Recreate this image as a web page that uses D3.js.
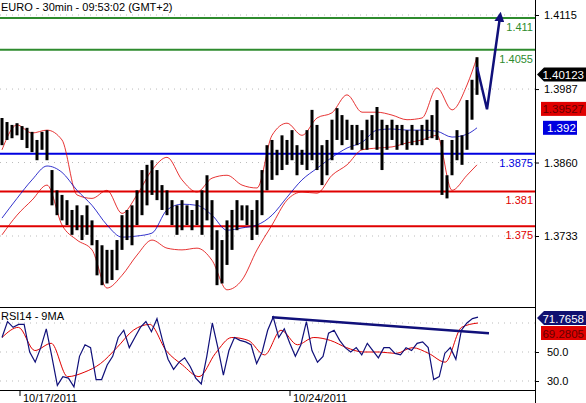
<!DOCTYPE html>
<html>
<head>
<meta charset="utf-8">
<script src="https://cdn.jsdelivr.net/npm/d3@7"></script>
<style>
  body { margin: 0; background: #fff; }
  svg { display: block; font-family: "Liberation Sans", Arial, sans-serif; }
</style>
</head>
<body>
<svg id="chart" width="586" height="403"></svg>
<script>
// 30 min bars, high / low
const barHigh = [1.3937,1.3930,1.3925,1.3928,1.3923,1.3920,1.3913,1.3899,1.3913,1.3916,
  1.3847,1.3812,1.3804,1.3795,1.3778,1.3786,1.3769,1.3786,1.3760,1.3726,
  1.3717,1.3709,1.3709,1.3726,1.3769,1.3778,1.3786,1.3812,1.3847,1.3856,
  1.3864,1.3847,1.3821,1.3812,1.3795,1.3786,1.3795,1.3786,1.3778,1.3795,
  1.3812,1.3838,1.3795,1.3743,1.3726,1.3760,1.3778,1.3795,1.3786,1.3786,
  1.3778,1.3795,1.3847,1.3890,1.3899,1.3882,1.3907,1.3899,1.3916,1.3890,
  1.3882,1.3916,1.3951,1.3925,1.3890,1.3899,1.3934,1.3954,1.3942,1.3934,
  1.3925,1.3925,1.3916,1.3934,1.3942,1.3956,1.3934,1.3925,1.3934,1.3925,
  1.3925,1.3916,1.3925,1.3916,1.3925,1.3934,1.3942,1.3968,1.3899,1.3838,
  1.3899,1.3916,1.3907,1.3968,1.4003,1.4042];
const barLow = [1.3890,1.3899,1.3902,1.3907,1.3899,1.3885,1.3878,1.3864,1.3882,1.3864,
  1.3786,1.3769,1.3760,1.3752,1.3735,1.3743,1.3726,1.3735,1.3717,1.3665,
  1.3648,1.3651,1.3657,1.3674,1.3709,1.3726,1.3717,1.3752,1.3769,1.3786,
  1.3804,1.3795,1.3778,1.3769,1.3752,1.3735,1.3743,1.3752,1.3743,1.3752,
  1.3735,1.3760,1.3709,1.3648,1.3651,1.3683,1.3709,1.3743,1.3760,1.3752,
  1.3726,1.3735,1.3769,1.3812,1.3830,1.3838,1.3847,1.3856,1.3864,1.3838,
  1.3856,1.3847,1.3864,1.3847,1.3821,1.3838,1.3864,1.3899,1.3890,1.3899,
  1.3882,1.3890,1.3882,1.3882,1.3899,1.3882,1.3847,1.3882,1.3899,1.3882,
  1.3890,1.3882,1.3890,1.3890,1.3890,1.3899,1.3902,1.3899,1.3804,1.3798,
  1.3838,1.3864,1.3856,1.3882,1.3934,1.3977];

// Bollinger bands, one point every 3 bars
const bandIndex = d3.range(0, 96, 3).concat([95]);
const bandUpper = [1.3882,1.3925,1.3911,1.3916,1.3899,1.3804,1.3798,1.3812,1.3772,1.3804,
  1.3847,1.3869,1.3830,1.3809,1.3833,1.3838,1.3821,1.3816,1.3907,1.3928,
  1.3907,1.3937,1.3946,1.3977,1.3947,1.3947,1.3942,1.3934,1.3937,1.3989,
  1.3951,1.3994,1.4042];
const bandLower = [1.3735,1.3769,1.3795,1.3821,1.3752,1.3726,1.3709,1.3643,1.3665,1.3700,
  1.3726,1.3712,1.3709,1.3712,1.3691,1.3640,1.3657,1.3709,1.3752,1.3795,
  1.3809,1.3807,1.3838,1.3856,1.3882,1.3885,1.3887,1.3894,1.3899,1.3907,
  1.3812,1.3838,1.3856];
const bandMid = [1.3764,1.3798,1.3830,1.3854,1.3843,1.3812,1.3786,1.3752,1.3731,1.3733,
  1.3738,1.3778,1.3788,1.3786,1.3769,1.3743,1.3747,1.3752,1.3769,1.3800,
  1.3830,1.3850,1.3869,1.3885,1.3895,1.3916,1.3918,1.3916,1.3916,1.3914,
  1.3904,1.3909,1.3920];

// projected path (blue arrow)
const projIndex = [95, 97, 99.6];
const projPrice = [1.4025, 1.3952, 1.4112];

// horizontal levels
const levels = [
  { value: 1.411, label: "1.411", color: "#2e8b2e" },
  { value: 1.4055, label: "1.4055", color: "#2e8b2e" },
  { value: 1.3875, label: "1.3875", color: "#0000e0" },
  { value: 1.381, label: "1.381", color: "#e00000" },
  { value: 1.375, label: "1.375", color: "#e00000" }
];
const priceTicks = [1.4115, 1.3987, 1.3860, 1.3733];

// RSI14 and its 9 MA
const rsi = [60,71,67,69,69,50,43,53,66,47,27,33,32,26,47,55,53,31,31,41,
  47,60,65,53,60,67,71,64,73,58,45,38,43,46,40,32,28,47,70,53,
  34,51,60,58,57,55,42,50,65,74,60,66,56,47,55,71,51,43,47,63,
  65,58,53,50,53,48,56,51,46,53,53,49,48,53,51,56,57,53,31,33,
  49,53,45,65,70,73,74];
const rsiMa = [60,67,51,56,33,36,42,53,65,69,51,41,33,49,60,58,48,65,55,60,
  58,53,50,50,49,53,49,43,67,70];
const rsiTicks = [50, 30];
const rsiTrend = { x: [54, 97.4], v: [74, 63] };

const dates = [{ i: 3.6, label: "10/17/2011" }, { i: 57.6, label: "10/24/2011" }];

const svg = d3.select("#chart");
const plotRight = 535;

const x = d3.scaleLinear().domain([0, 95]).range([2, 477]);
const y = d3.scaleLinear().domain([1.3733, 1.4115]).range([236, 15]);
const yr = d3.scaleLinear().domain([30, 50]).range([381, 352]);
const xRsi = d3.scaleLinear().domain([0, rsi.length - 1]).range([2, 478]);
const xRsiMa = d3.scaleLinear().domain([0, rsiMa.length - 1]).range([2, 478]);

// dotted grids
svg.append("g").selectAll("line").data(priceTicks).join("line")
  .attr("x1", 0).attr("x2", plotRight).attr("y1", d => y(d)).attr("y2", d => y(d))
  .attr("stroke", "#bbb").attr("stroke-dasharray", "1,5");
svg.append("g").selectAll("line").data([70, 50, 30]).join("line")
  .attr("x1", 0).attr("x2", plotRight).attr("y1", d => yr(d)).attr("y2", d => yr(d))
  .attr("stroke", "#bbb").attr("stroke-dasharray", "1,5");

// levels
const lv = svg.append("g");
lv.selectAll("line").data(levels).join("line")
  .attr("x1", 0).attr("x2", plotRight).attr("y1", d => y(d.value)).attr("y2", d => y(d.value))
  .attr("stroke", d => d.color).attr("stroke-width", 2);
lv.selectAll("text").data(levels).join("text")
  .attr("x", plotRight - 2).attr("y", d => y(d.value) + 13).attr("text-anchor", "end")
  .attr("font-size", 11).attr("fill", d => d.color).text(d => d.label);

// bands
const bandLine = arr => d3.line().x((d, k) => x(bandIndex[k])).y(d => y(d)).curve(d3.curveMonotoneX)(arr);
svg.append("path").attr("d", bandLine(bandUpper)).attr("fill", "none").attr("stroke", "#e00000").attr("stroke-width", 0.8);
svg.append("path").attr("d", bandLine(bandLower)).attr("fill", "none").attr("stroke", "#e00000").attr("stroke-width", 0.8);
svg.append("path").attr("d", bandLine(bandMid)).attr("fill", "none").attr("stroke", "#0000c0").attr("stroke-width", 0.8);

// bars
svg.append("g").selectAll("line").data(barHigh).join("line")
  .attr("x1", (d, i) => x(i)).attr("x2", (d, i) => x(i))
  .attr("y1", d => y(d)).attr("y2", (d, i) => y(barLow[i]))
  .attr("stroke", "#000").attr("stroke-width", 3);

// projection arrow
svg.append("defs").append("marker").attr("id", "arr")
  .attr("viewBox", "0 0 10 10").attr("refX", 5).attr("refY", 5)
  .attr("markerWidth", 4).attr("markerHeight", 4).attr("orient", "auto")
  .append("path").attr("d", "M0,0L10,5L0,10z").attr("fill", "#10107a");
svg.append("path")
  .attr("d", d3.line().x(d => x(d)).y((d, k) => y(projPrice[k]))(projIndex))
  .attr("fill", "none").attr("stroke", "#10107a").attr("stroke-width", 2.5)
  .attr("marker-end", "url(#arr)");

// frame
svg.append("line").attr("x1", plotRight + 0.5).attr("x2", plotRight + 0.5).attr("y1", 0).attr("y2", 403).attr("stroke", "#000");
svg.append("line").attr("x1", 0).attr("x2", plotRight).attr("y1", 307.5).attr("y2", 307.5).attr("stroke", "#000");
svg.append("line").attr("x1", 0).attr("x2", plotRight).attr("y1", 390.5).attr("y2", 390.5).attr("stroke", "#000");

// right axes
const ax = d3.axisRight(y).tickValues(priceTicks).tickFormat(d3.format(".4f")).tickSize(4);
svg.append("g").attr("transform", `translate(${plotRight},0)`).call(ax)
  .call(g => g.select(".domain").remove())
  .call(g => g.selectAll("text").attr("x", 9).attr("font-size", 11).attr("font-family", "Liberation Sans, Arial"));
const axr = d3.axisRight(yr).tickValues(rsiTicks).tickFormat(d3.format(".1f")).tickSize(4);
svg.append("g").attr("transform", `translate(${plotRight},0)`).call(axr)
  .call(g => g.select(".domain").remove())
  .call(g => g.selectAll("text").attr("x", 12).attr("font-size", 11).attr("font-family", "Liberation Sans, Arial"));

// value tags
function tag(yy, txt, bg, fg, x0) {
  const g = svg.append("g");
  if (x0 == null) {
    g.append("path").attr("d", `M${plotRight + 2},${yy}L${plotRight + 9},${yy - 7}L586,${yy - 7}L586,${yy + 7}L${plotRight + 9},${yy + 7}Z`).attr("fill", bg);
  } else {
    g.append("rect").attr("x", x0).attr("y", yy - 7).attr("width", 586 - x0).attr("height", 14).attr("fill", bg);
  }
  g.append("text").attr("x", 584).attr("y", yy + 4.5).attr("text-anchor", "end")
    .attr("font-size", 11.5).attr("fill", fg).text(txt);
}
tag(y(1.40123), "1.40123", "#000", "#fff");
tag(y(1.39527), "1.39527", "#e00000", "#600", 541);
const blue = svg.append("g");
blue.append("rect").attr("x", 543).attr("y", y(1.392) - 7).attr("width", 34).attr("height", 14).attr("fill", "#0000e0");
blue.append("text").attr("x", 547).attr("y", y(1.392) + 4.5).attr("font-size", 11.5).attr("fill", "#fff").text("1.392");
tag(318, "71.7658", "#101070", "#fff");
tag(333, "69.2805", "#e00000", "#600", 541);

// RSI
svg.append("path").attr("d", d3.line().x((d, i) => xRsiMa(i)).y(d => yr(d)).curve(d3.curveMonotoneX)(rsiMa))
  .attr("fill", "none").attr("stroke", "#e00000").attr("stroke-width", 1);
svg.append("path").attr("d", d3.line().x((d, i) => xRsi(i)).y(d => yr(d))(rsi))
  .attr("fill", "none").attr("stroke", "#10107a").attr("stroke-width", 1.2);
svg.append("line").attr("x1", x(rsiTrend.x[0])).attr("x2", x(rsiTrend.x[1]))
  .attr("y1", yr(rsiTrend.v[0])).attr("y2", yr(rsiTrend.v[1]))
  .attr("stroke", "#10107a").attr("stroke-width", 2.5);
svg.append("text").attr("x", 1).attr("y", 320).attr("font-size", 11).text("RSI14 - 9MA");

// dates
const dg = svg.append("g").selectAll("g").data(dates).join("g")
  .attr("transform", d => `translate(${x(d.i)},390)`);
dg.append("line").attr("y1", 0).attr("y2", 6).attr("stroke", "#000");
dg.append("text").attr("x", 3).attr("y", 12).attr("font-size", 11).text(d => d.label);

// title
svg.append("text").attr("x", 1).attr("y", 11).attr("font-size", 11).text("EURO - 30min - 09:53:02 (GMT+2)");
</script>
</body>
</html>
